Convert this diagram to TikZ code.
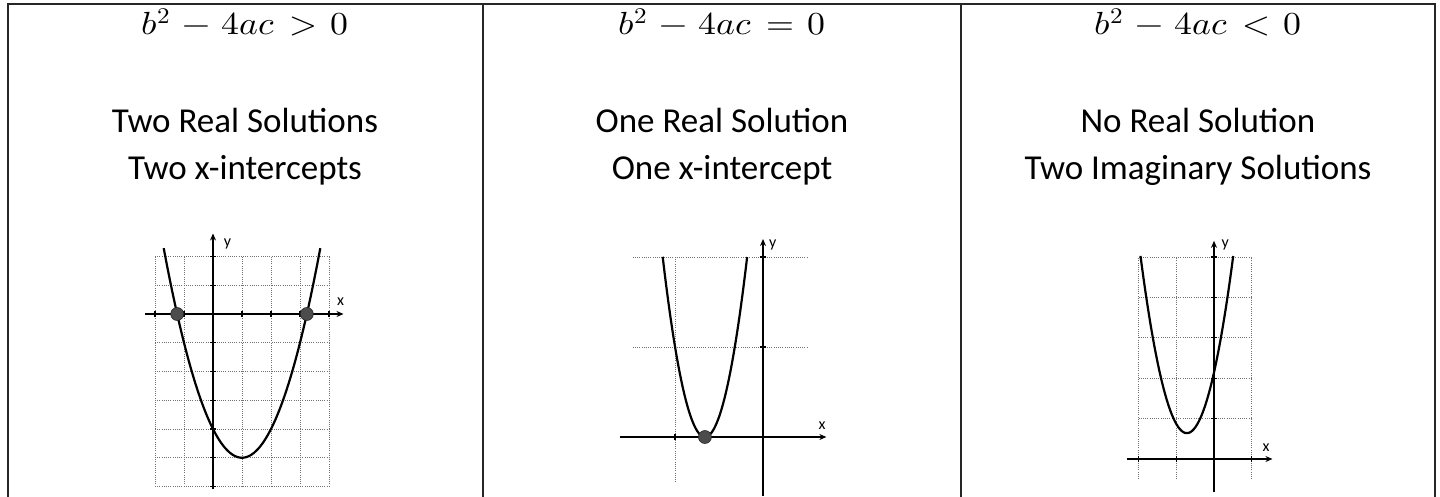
\documentclass[tikz,border=0pt]{standalone}
\usepackage{fontspec}
\usepackage{unicode-math}
\setmainfont{Carlito}
\setmathfont{Latin Modern Math}
\usetikzlibrary{arrows.meta}
\tikzset{
  rule/.style={draw=black!85, line width=2pt},
  eq/.style={anchor=base, inner sep=0pt, font=\fontsize{32}{38}\selectfont},
  txt/.style={anchor=base, inner sep=0pt, font=\fontsize{35}{42}\selectfont},
  gridln/.style={draw=black!55, line width=0.8pt, dash pattern=on 1pt off 1.2pt},
  axis/.style={draw=black, line width=1.4pt, -{Stealth[length=7pt,width=6pt]}},
  curve/.style={draw=black, line width=2.2pt},
  pt/.style={fill=black!70, draw=black!85, line width=0.6pt},
  axlbl/.style={inner sep=0pt, font=\fontsize{16}{16}\selectfont},
  tick/.style={draw=black, line width=1.2pt}
}
\begin{document}
\begin{tikzpicture}[x=1pt,y=-1pt]
\useasboundingbox (0,0) rectangle (1440,497);
\fill[white] (0,0) rectangle (1440,497);
% table frame
\coordinate (tl) at (8,4); \coordinate (tr) at (1435,4);
\coordinate (s1t) at (483,4); \coordinate (s1b) at (483,497);
\coordinate (s2t) at (961,4); \coordinate (s2b) at (961,497);
\coordinate (bl) at (8,497); \coordinate (br) at (1435,497);
\draw[rule] (bl) -- (tl) -- (tr) -- (br);
\draw[rule] (s1t) -- (s1b);
\draw[rule] (s2t) -- (s2b);
% headings
\newcommand{\eqsp}{\medmuskip=6mu\thickmuskip=7mu}
\node[eq] (e1) at (245,35) {\scalebox{1.12}[1]{$\eqsp b^2-4ac>0$}};
\node[eq] (e2) at (722,35) {\scalebox{1.12}[1]{$\eqsp b^2-4ac=0$}};
\node[eq] (e3) at (1198,35) {\scalebox{1.12}[1]{$\eqsp b^2-4ac<0$}};
\node[txt] (t1a) at (245,133) {Two Real Solutions};
\node[txt] (t1b) at (245,180) {Two x-intercepts};
\node[txt] (t2a) at (722,133) {One Real Solution};
\node[txt] (t2b) at (722,180) {One x-intercept};
\node[txt] (t3a) at (1198,133) {No Real Solution};
\node[txt] (t3b) at (1198,180) {Two Imaginary Solutions};
% ---------- graph 1 ----------
\begin{scope}[shift={(213pt,-314pt)}, x=29pt, y=28.75pt]
  \foreach \i in {-2,...,4} \draw[gridln] (\i,-6) -- (\i,2);
  \foreach \j in {-6,...,2} \draw[gridln] (-2,\j) -- (4,\j);
  \draw[axis] (-2.35,0) -- (4.5,0);
  \draw[axis] (0,-6.1) -- (0,2.8);
  \foreach \i in {-2,-1,1,2,3,4} \draw[tick] (\i,-0.1) -- (\i,0.1);
  \foreach \j in {-6,...,-1,1,2} \draw[tick] (-0.1,\j) -- (0.1,\j);
  \draw[curve] plot[domain=-1.7:3.7, samples=60, smooth] (\x, {(\x-1)^2-5});
  \fill[pt] (-1.236,0) circle (6.5pt);
  \fill[pt] (3.236,0) circle (6.5pt);
  \node[axlbl] (y1) at (0.5,2.45) {y};
  \node[axlbl] (x1) at (4.4,0.42) {x};
\end{scope}
% ---------- graph 2 ----------
\begin{scope}[shift={(763pt,-437pt)}, x=88pt, y=90pt]
  \draw[gridln] (-1.48,2) -- (0.5,2);
  \draw[gridln] (-1.48,1) -- (0.5,1);
  \draw[gridln] (-1,2) -- (-1,-0.5);
  \draw[axis] (-1.63,0) -- (0.72,0);
  \draw[axis] (0,-0.65) -- (0,2.2);
  \draw[tick] (-1,-0.035) -- (-1,0.035);
  \foreach \j in {1,2} \draw[tick] (-0.035,\j) -- (0.035,\j);
  \draw[curve] plot[domain=-1.14:-0.18, samples=60, smooth] (\x, {8.69*(\x+0.66)^2});
  \fill[pt] (-0.66,0) circle (6.5pt);
  \node[axlbl] (y2) at (0.11,2.13) {y};
  \node[axlbl] (x2) at (0.67,0.13) {x};
\end{scope}
% ---------- graph 3 ----------
\begin{scope}[shift={(1214pt,-459pt)}, x=37.7pt, y=40.4pt]
  \foreach \i in {-2,...,1} \draw[gridln] (\i,-0.5) -- (\i,5);
  \foreach \j in {1,...,5} \draw[gridln] (-2,\j) -- (1,\j);
  \draw[axis] (-2.3,0) -- (1.55,0);
  \draw[axis] (0,-0.82) -- (0,5.4);
  \foreach \i in {-2,-1,1} \draw[tick] (\i,-0.08) -- (\i,0.08);
  \foreach \j in {1,...,5} \draw[tick] (-0.08,\j) -- (0.08,\j);
  \draw[curve] plot[domain=-1.95:0.51, samples=60, smooth] (\x, {2.9*(\x+0.72)^2+0.64});
  \node[axlbl] (y3) at (0.3,5.3) {y};
  \node[axlbl] (x3) at (1.38,0.27) {x};
\end{scope}
\end{tikzpicture}
\end{document}
